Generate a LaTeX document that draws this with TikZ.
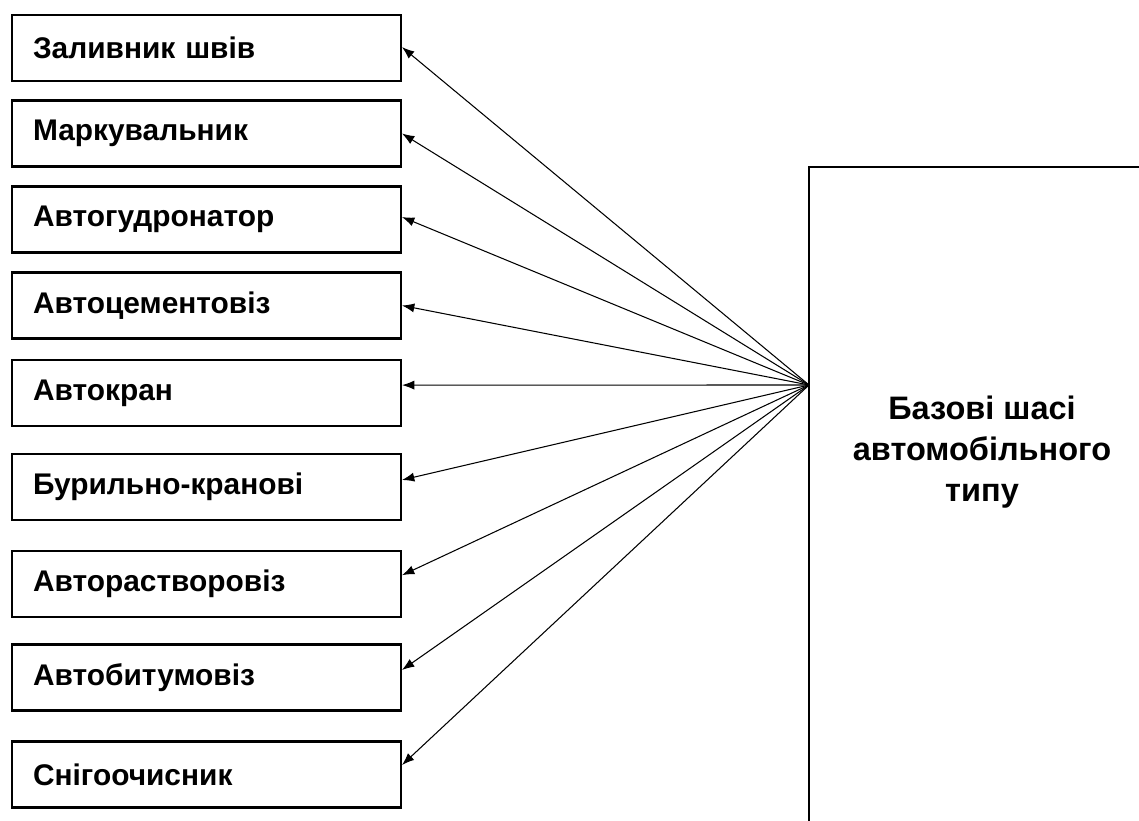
\documentclass[tikz,border=0pt]{standalone}
\usepackage{fontspec}
\setmainfont{Liberation Sans}
\usetikzlibrary{arrows.meta}

\begin{document}
\begin{tikzpicture}[x=0.02cm, y=-0.02cm,
    kind/.style={draw, line width=1.2pt, minimum width=7.78cm, minimum height=1.32cm,
        inner sep=0pt, text width=6.94cm, align=left,
        font=\fontsize{17pt}{21pt}\selectfont\bfseries},
    feed/.style={line width=0.6pt, -{Latex[length=7pt, width=5.2pt]}}]
\def \xbox   {206.5}
\def \xhub   {809}
\def \yhub   {385}
\def \ytopb  {167}

\useasboundingbox (0,0) rectangle (1139,821);
\clip (0,0) rectangle (1139,821);

% machine kinds
\node [kind] (zal) at (\xbox, 48)    {Заливник швів};
\node [kind] (mar) at (\xbox, 133.5) {Маркувальник};
\node [kind] (gud) at (\xbox, 219.5) {Автогудронатор};
\node [kind] (cem) at (\xbox, 305.5) {Автоцементовіз};
\node [kind] (kra) at (\xbox, 393)   {Автокран};
\node [kind] (bur) at (\xbox, 487)   {Бурильно-кранові};
\node [kind] (rst) at (\xbox, 584)   {Авторастворовіз};
\node [kind] (bit) at (\xbox, 677.5) {Автобитумовіз};
\node [kind] (sni) at (\xbox, 774.5) {Снігоочисник};

% base chassis
\draw [line width=1.2pt] (\xhub, 840) -- (\xhub, \ytopb) -- (1160, \ytopb);
\node [align=center, font=\fontsize{18.5pt}{23.3pt}\selectfont\bfseries] (base) at (982, 452)
    {Базові шасі\\автомобільного\\типу};
\coordinate (hub) at (\xhub, \yhub);

% arrows
\draw [feed] (hub) -- ([yshift=0.5pt]zal.east);
\draw [feed] (hub) -- (mar.east);
\draw [feed] (hub) -- ([yshift=1.4pt]gud.east);
\draw [feed] (hub) -- (cem.east);
\draw [feed] (hub) -- ([yshift=4.5pt]kra.east);
\draw [feed] (hub) -- ([yshift=4pt]bur.east);
\draw [feed] (hub) -- ([yshift=5pt]rst.east);
\draw [feed] (hub) -- ([yshift=4.3pt]bit.east);
\draw [feed] (hub) -- ([yshift=5.4pt]sni.east);

\end{tikzpicture}
\end{document}
